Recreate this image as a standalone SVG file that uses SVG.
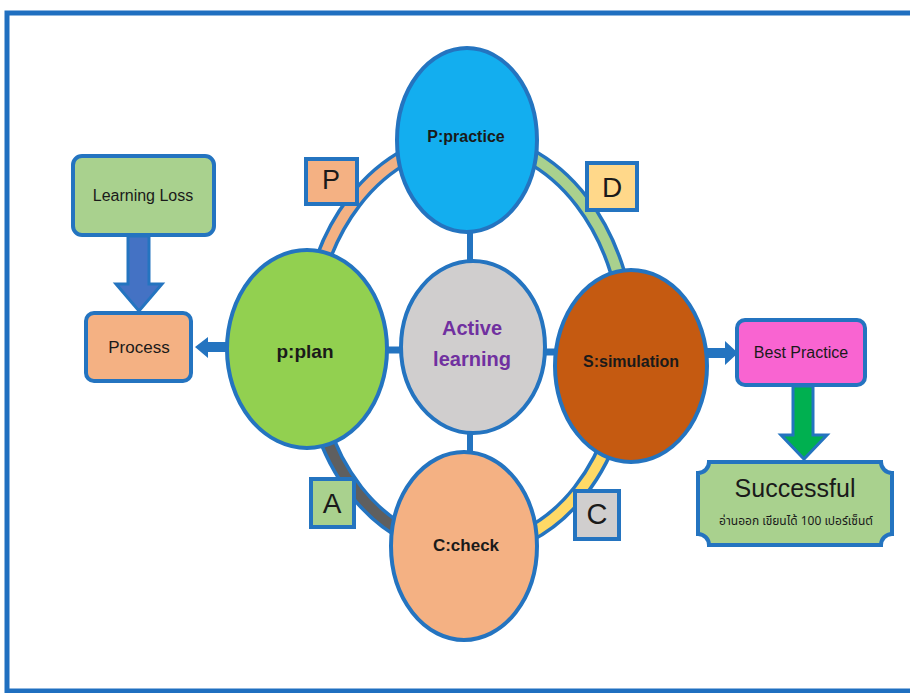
<svg xmlns="http://www.w3.org/2000/svg" width="910" height="693" viewBox="0 0 910 693">
<style>
.bl{stroke:#2474C0;stroke-width:4}
.node{stroke:#2474C0;stroke-width:4}
.t{font-family:"Liberation Sans",Arial,sans-serif;fill:#1a1a1a;text-anchor:middle}
.b{font-weight:bold}
.band{fill:none;stroke:#2474C0;stroke-width:17}
.bandi{fill:none;stroke-width:10}
.ar{stroke:#2474C0;stroke-width:3;stroke-linejoin:miter}
</style>
<rect x="0" y="0" width="910" height="693" fill="#ffffff"/>
<rect x="7" y="13" width="930" height="678" fill="#ffffff" stroke="#1F6FC0" stroke-width="5"/>

<g id="connectors">
  <!-- ring -->
  <path class="band" d="M307 350 A161 210 0 0 1 468 140"/>
  <path class="band" d="M468 140 A161 210 0 0 1 629 350"/>
  <path class="band" d="M626 350 A158 200 0 0 1 468 550"/>
  <path class="band" d="M468 550 A158 200 0 0 1 310 350"/>
  <path class="bandi" stroke="#F4B183" d="M307 350 A161 210 0 0 1 468 140"/>
  <path class="bandi" stroke="#A9D18E" d="M468 140 A161 210 0 0 1 629 350"/>
  <path class="bandi" stroke="#FFD966" d="M626 350 A158 200 0 0 1 468 550"/>
  <path class="bandi" stroke="#5F5F5F" d="M468 550 A158 200 0 0 1 310 350"/>
  <!-- cross lines -->
  <line x1="470" y1="228" x2="470" y2="266" stroke="#2474C0" stroke-width="6"/>
  <line x1="470" y1="430" x2="470" y2="456" stroke="#2474C0" stroke-width="6"/>
  <line x1="384" y1="350" x2="404" y2="350" stroke="#2474C0" stroke-width="7"/>
  <line x1="542" y1="352" x2="558" y2="352" stroke="#2474C0" stroke-width="7"/>
  <!-- plan -> Process -->
  <polygon fill="#2474C0" points="229,342 208,342 208,337 195,347 208,358 208,352 229,352"/>
  <!-- simulation -> Best Practice -->
  <polygon fill="#2474C0" points="706,348 725,348 725,341 738,353 725,365 725,358 706,358"/>
  <!-- Learning Loss -> Process -->
  <polygon class="ar" fill="#4472C4" points="128,236 149,236 149,284 162,284 139,311 116,284 128,284"/>
  <!-- Best Practice -> Successful -->
  <polygon class="ar" fill="#00B050" points="793,386 813,386 813,435 827,435 804,459 781,435 793,435"/>
</g>

<g id="practice">
  <ellipse class="node" cx="467" cy="140" rx="70" ry="92" fill="#13AEEF"/>
  <text class="t b" x="466" y="142" font-size="16">P:practice</text>
</g>
<g id="plan">
  <ellipse class="node" cx="307" cy="349" rx="80" ry="99" fill="#92D050"/>
  <text class="t b" x="305" y="358" font-size="19">p:plan</text>
</g>
<g id="active">
  <ellipse class="node" cx="473" cy="347" rx="72" ry="86" fill="#D0CECE"/>
  <text class="t b" x="472" y="335" font-size="20" style="fill:#7030A0">Active</text>
  <text class="t b" x="472" y="366" font-size="20" style="fill:#7030A0">learning</text>
</g>
<g id="simulation">
  <ellipse class="node" cx="631" cy="366" rx="76" ry="96" fill="#C55A11"/>
  <text class="t b" x="631" y="367" font-size="16">S:simulation</text>
</g>
<g id="check">
  <ellipse class="node" cx="464" cy="546" rx="73" ry="94" fill="#F4B183"/>
  <text class="t b" x="466" y="551" font-size="17">C:check</text>
</g>

<g id="box-P">
  <rect class="node" x="306" y="159" width="51" height="45" fill="#F4B183"/>
  <text class="t" x="331" y="189" font-size="27">P</text>
</g>
<g id="box-D">
  <rect class="node" x="587" y="163" width="50" height="47" fill="#FFD88A"/>
  <text class="t" x="612" y="197" font-size="28">D</text>
</g>
<g id="box-A">
  <rect class="node" x="311" y="479" width="43" height="48" fill="#A9D18E"/>
  <text class="t" x="332" y="513" font-size="28">A</text>
</g>
<g id="box-C">
  <rect class="node" x="575" y="491" width="44" height="48" fill="#D0CECE"/>
  <text class="t" x="597" y="524" font-size="29">C</text>
</g>

<g id="learning-loss">
  <rect class="node" x="73" y="156" width="141" height="79" rx="9" fill="#A9D18E"/>
  <text class="t" x="143" y="201" font-size="16">Learning Loss</text>
</g>
<g id="process">
  <rect class="node" x="86" y="313" width="105" height="68" rx="8" fill="#F4B183"/>
  <text class="t" x="139" y="353" font-size="17">Process</text>
</g>
<g id="best-practice">
  <rect class="node" x="737" y="320" width="128" height="65" rx="8" fill="#F964D1"/>
  <text class="t" x="801" y="358" font-size="16">Best Practice</text>
</g>
<g id="successful">
  <path class="node" fill="#A9D18E" d="M709 462 H881 A11 11 0 0 0 892 473 V534 A11 11 0 0 0 881 545 H709 A11 11 0 0 0 698 534 V473 A11 11 0 0 0 709 462 Z"/>
  <text class="t" x="795" y="497" font-size="25">Successful</text>
  <text class="t" x="796" y="525" font-size="12" style="font-family:'Noto Sans Thai','Noto Sans','DejaVu Sans',sans-serif">อ่านออก เขียนได้ 100 เปอร์เซ็นต์</text>
</g>
</svg>
